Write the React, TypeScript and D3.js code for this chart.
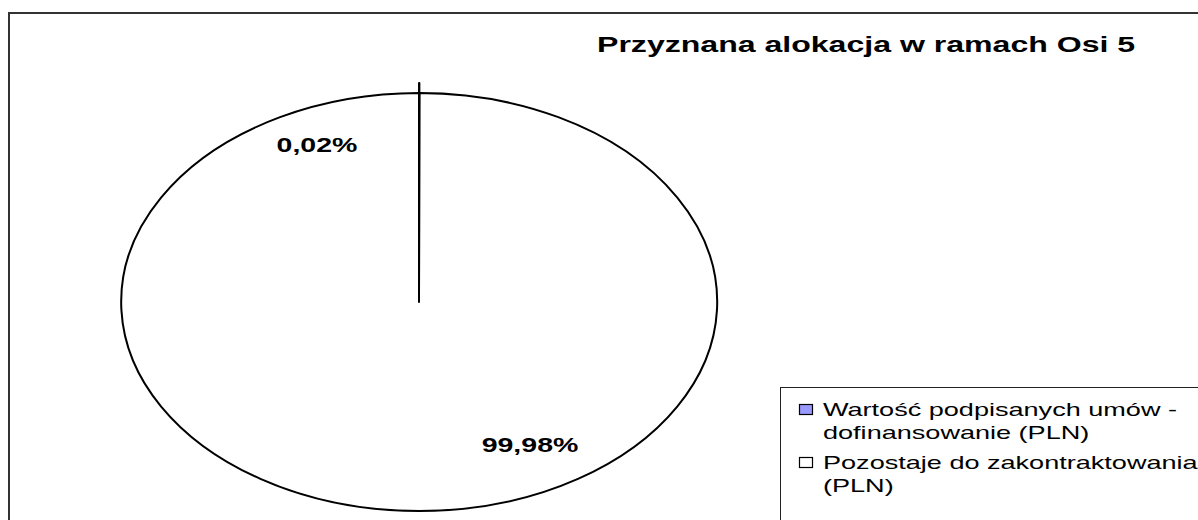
import React from 'react'
import * as d3 from 'd3'

const W = 1198
const H = 520

const TITLE = 'Przyznana alokacja w ramach Osi 5'
const CATEGORIES = [
  'Wartość podpisanych umów - dofinansowanie (PLN)',
  'Pozostaje do zakontraktowania (PLN)',
]
const LEGEND_LINES = [
  ['Wartość podpisanych umów -', 'dofinansowanie (PLN)'],
  ['Pozostaje do zakontraktowania', '(PLN)'],
]
const VALUES = [0.02, 99.98]
const LABELS = ['0,02%', '99,98%']
const COLORS = ['#9999FF', '#FFFFFF']
const EXPLODE = [10, 0]

// the whole source picture is stretched horizontally, so pie and text share SX
const CX = 419
const CY = 302
const RY = 209
const RX = 298
const SX = RX / RY

const LABEL_POS = [
  { x: 317, y: 152 },
  { x: 530, y: 452 },
]

// text squeezed/stretched on x only, like the reference
function SText({ x, y, size, bold, anchor, children }: any) {
  return (
    <text transform={`translate(${x},${y}) scale(${SX},1)`} fontSize={size}
      fontWeight={bold ? 'bold' : 'normal'} textAnchor={anchor || 'start'} fill="#000">
      {children}
    </text>
  )
}

export default function App() {
  const pie = d3.pie<number>().sort(null).startAngle(0).endAngle(2 * Math.PI)
  const arcs = pie(VALUES)
  const arc = d3.arc<d3.PieArcDatum<number>>().innerRadius(0).outerRadius(RY)

  return (
    <div style={{ position: 'fixed', left: 0, top: 0, width: W, height: H, background: '#fff' }}>
      <svg width={W} height={H} style={{ display: 'block' }} fontFamily="'Liberation Sans', Arial, sans-serif">
        <rect x={0} y={0} width={W} height={H} fill="#fff" />
        {/* outer chart frame */}
        <rect x={9} y={13} width={W + 20} height={H + 20} fill="none" stroke="#333" strokeWidth={2} />

        <SText x={597} y={52} size={22.5} bold>{TITLE}</SText>

        {/* pie, small slice pulled out */}
        <g transform={`translate(${CX},${CY}) scale(${SX},1)`}>
          {arcs.slice().reverse().map((a, j) => {
            const i = arcs.length - 1 - j
            const mid = (a.startAngle + a.endAngle) / 2
            const dx = Math.sin(mid) * EXPLODE[i]
            const dy = -Math.cos(mid) * EXPLODE[i]
            return (
              <path key={i} d={arc(a) || ''} transform={`translate(${dx},${dy})`}
                fill={COLORS[i]} stroke="#000" strokeWidth={2}
                vectorEffect="non-scaling-stroke" strokeLinejoin="round" />
            )
          })}
        </g>

        {LABELS.map((l, i) => (
          <SText key={i} x={LABEL_POS[i].x} y={LABEL_POS[i].y} size={20} bold anchor="middle">{l}</SText>
        ))}

        {/* legend */}
        <rect x={780.5} y={387.5} width={W} height={H} fill="#fff" stroke="#222" strokeWidth={1} />
        {CATEGORIES.map((c, i) => (
          <g key={c}>
            <rect x={799.5} y={404.5 + i * 53} width={13} height={10} fill={COLORS[i]} stroke="#000" strokeWidth={1.2} />
            {LEGEND_LINES[i].map((ln, k) => (
              <SText key={k} x={823} y={416 + i * 53 + k * 23} size={19}>{ln}</SText>
            ))}
          </g>
        ))}
      </svg>
    </div>
  )
}
